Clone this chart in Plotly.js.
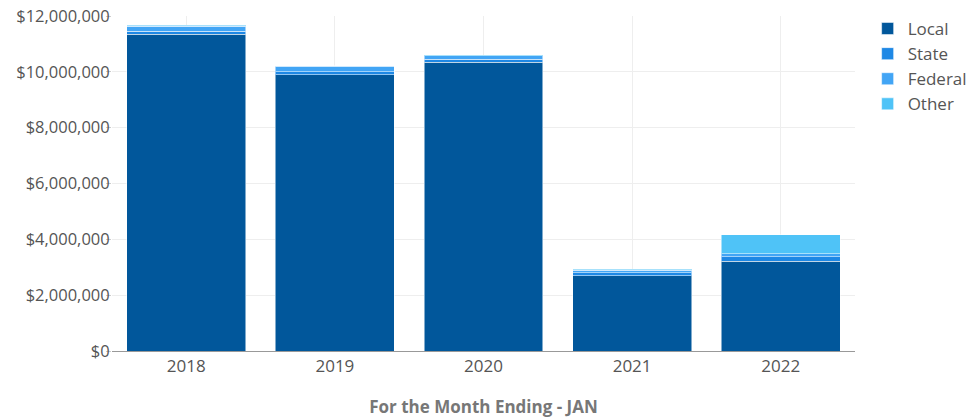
<!DOCTYPE html>
<html>
<head>
<meta charset="utf-8">
<script src="https://cdn.plot.ly/plotly-3.0.1.min.js"></script>
<style>html,body{margin:0;padding:0;background:#fff;}#chart{width:969px;height:419px;}</style>
</head>
<body>
<div id="chart"></div>
<script>
var years = ['2018', '2019', '2020', '2021', '2022'];
var localVals = [11350000, 9890000, 10350000, 2700000, 3210000];
var stateVals = [110000, 120000, 100000, 100000, 160000];
var federalVals = [180000, 190000, 130000, 100000, 120000];
var otherVals = [20000, 20000, 20000, 20000, 680000];
var yTicks = [0, 2000000, 4000000, 6000000, 8000000, 10000000, 12000000];

var names = ['Local', 'State', 'Federal', 'Other'];
var colors = ['#01579B', '#1E88E5', '#42A5F5', '#4FC3F7'];
var series = [localVals, stateVals, federalVals, otherVals];

var traces = series.map(function (vals, i) {
  return {
    type: 'bar',
    name: names[i],
    x: years,
    y: vals,
    marker: {color: colors[i], line: {color: 'rgba(255,255,255,0.5)', width: 1}},
    hoverinfo: 'x+y+name'
  };
});

var layout = {
  width: 969,
  height: 419,
  barmode: 'stack',
  bargap: 0.2,
  paper_bgcolor: '#fff',
  plot_bgcolor: '#fff',
  font: {family: '"Open Sans", sans-serif', size: 16, color: '#555'},
  margin: {l: 112, r: 114, t: 16, b: 68, pad: 0, autoexpand: false},
  showlegend: true,
  legend: {
    x: 1.017, y: 1.015, xanchor: 'left', yanchor: 'top',
    font: {size: 17, color: '#555'},
    itemwidth: 30, tracegroupgap: 0,
    traceorder: 'normal'
  },
  xaxis: {
    type: 'category',
    showgrid: true,
    gridcolor: '#eee',
    showline: true,
    linecolor: '#999',
    linewidth: 1,
    ticks: '',
    tickfont: {size: 17, color: '#555'},
    title: {text: 'For the Month Ending - JAN', font: {size: 17, color: '#777', weight: 'bold'}, standoff: 24}
  },
  yaxis: {
    range: [0, 12000000],
    tickvals: yTicks,
    tickformat: '$,.0f',
    showgrid: true,
    gridcolor: '#eee',
    zeroline: false,
    showline: false,
    ticks: 'outside',
    ticklen: 5,
    tickcolor: '#ccc',
    ticklabelstandoff: -7,
    tickfont: {size: 16.5, color: '#555'}
  }
};

Plotly.newPlot('chart', traces, layout, {displayModeBar: false, responsive: false});
</script>
</body>
</html>
